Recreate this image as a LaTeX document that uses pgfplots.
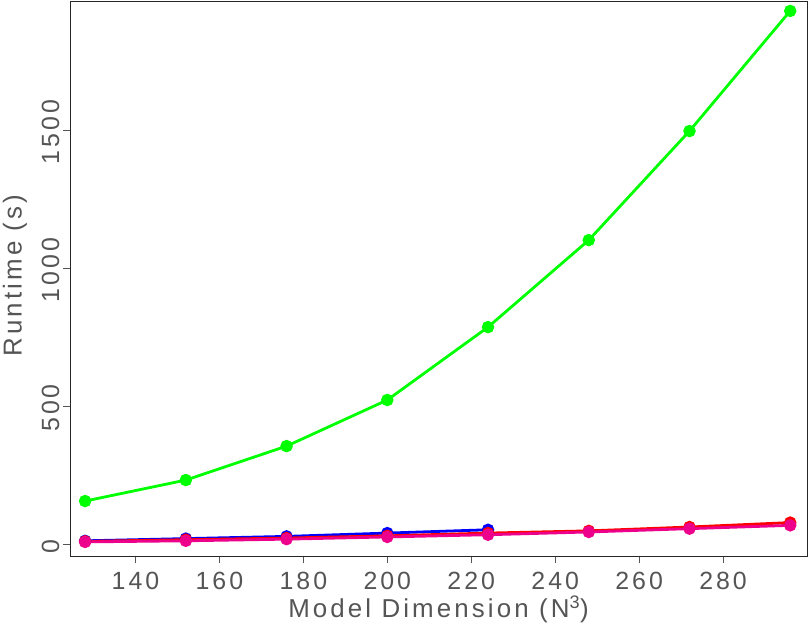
\documentclass[border=0pt]{standalone}
\usepackage{pgfplots}
\pgfplotsset{compat=1.18}
\usepackage{fontspec}
\setmainfont{Liberation Sans}[LetterSpace=12]
\definecolor{txtgray}{RGB}{85,85,85}
\begin{document}
\begin{tikzpicture}
\begin{axis}[
  scale only axis,
  width=737bp, height=555bp,
  xmin=124.4, xmax=300,
  ymin=-43, ymax=1967,
  xtick={140,160,...,280},
  ytick={0,500,1000,1500},
  tick align=outside,
  major tick length=7bp,
  tick style={txtgray, line width=0.8pt},
  axis line style={black!85, line width=0.9pt},
  xtick pos=bottom, ytick pos=left,
  /pgf/number format/assume math mode=true,
  /pgf/number format/1000 sep={},
  ticklabel style={font=\fontsize{25}{25}\selectfont, text=txtgray},
  xticklabel style={anchor=north, yshift=-6bp},
  yticklabel style={rotate=90, anchor=south, xshift=-2bp},
  xlabel={Model Dimension (N\textsuperscript{3})},
  ylabel={Runtime (s)},
  label style={font=\fontsize{26}{26}\selectfont, text=txtgray},
  xlabel style={at={(axis description cs:0.5,-0.097)}, anchor=center},
  ylabel style={at={(axis description cs:-0.0746,0.505)}, anchor=center},
  every axis plot/.append style={line width=2.8pt, mark=*, mark size=4.8bp, mark options={solid}},
]
\addplot[blue] coordinates {(128,12) (152,20) (176,28) (200,40) (224,52)};
\addplot[red] coordinates {(128,10) (152,16) (176,22) (200,30) (224,40) (248,48) (272,62) (296,78)};
\addplot[magenta] coordinates {(128,8) (152,12) (176,18) (200,26) (224,34) (248,44) (272,56) (296,68)};
\addplot[green] coordinates {(128,156) (152,232) (176,355) (200,522) (224,786) (248,1101) (272,1496) (296,1931)};
\end{axis}
\pgfresetboundingbox
\path (current axis.south west) ++(-70bp,-68bp) rectangle ++(808bp,624bp);
\end{tikzpicture}
\end{document}
